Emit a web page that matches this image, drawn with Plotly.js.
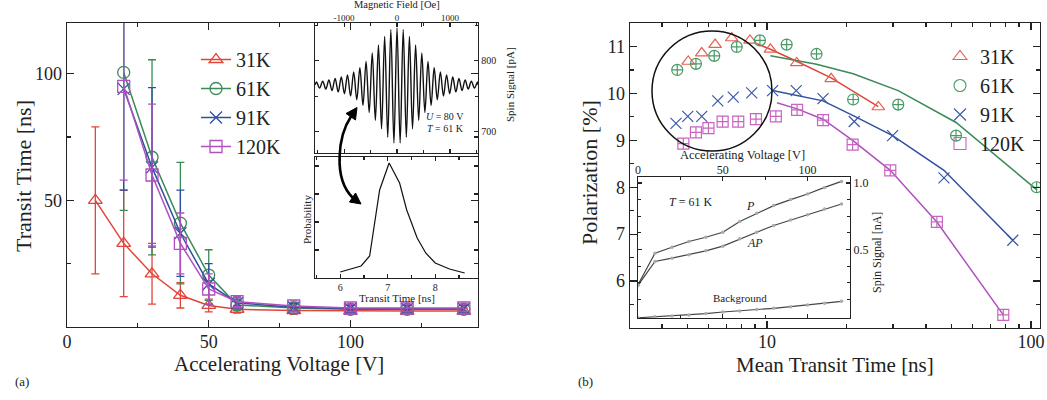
<!DOCTYPE html>
<html>
<head>
<meta charset="utf-8">
<script src="https://cdn.plot.ly/plotly-3.0.1.min.js"></script>
<style>html,body{margin:0;padding:0;background:#fff;}#chart{width:1047px;height:400px;}</style>
</head>
<body>
<div id="chart"></div>
<script>
// ---------- Panel (a): transit time vs accelerating voltage ----------
const voltage31 = [10, 20, 30, 40, 50, 60, 80, 100, 120, 140];
const transit31 = [50, 33, 21, 12.5, 8.5, 7, 6.5, 6.3, 6.3, 6.3];
const err31 = [29, 21, 12, 5, 2.5, 1.5, 1.5, 1.2, 1.2, 1.2];

const voltageHi = [20, 30, 40, 50, 60, 80, 100, 120, 140];
const transit61 = [100.5, 67, 41, 20.5, 8.7, 7.5, 7, 7, 7];
const err61 = [54.5, 38.5, 24, 10, 2, 1.5, 1.5, 1.5, 1.5];
const transit91 = [94, 63, 37, 17, 9.5, 7.8, 7.2, 7.2, 7.2];
const err91 = [40, 31.5, 17, 8, 2, 1.5, 1.5, 1.5, 1.5];
const transit120 = [95, 60, 33, 15, 10, 8.3, 7.5, 7.5, 7.5];
const err120 = [37, 28, 12, 6, 2, 2, 1.5, 1.5, 1.5];

// inset: spin signal vs magnetic field (extrema)
const fieldOe = [-1545, -1521, -1462.5, -1404, -1345.5, -1287, -1228.5, -1170, -1111.5, -1053, -994.5, -936, -877.5, -819, -760.5, -702, -643.5, -585, -526.5, -468, -409.5, -351, -292.5, -234, -175.5, -117, -58.5, 0, 58.5, 117, 175.5, 234, 292.5, 351, 409.5, 468, 526.5, 585, 643.5, 702, 760.5, 819, 877.5, 936, 994.5, 1053, 1111.5, 1170, 1228.5, 1287, 1345.5, 1404, 1462.5, 1521, 1528];
const spinPA = [766, 770, 761.5, 771, 760, 773, 758, 775, 756, 777, 753.5, 780, 750, 784, 745, 790, 737, 799, 727, 811, 716, 822, 704, 834, 692, 844, 684, 846, 684, 844, 692, 834, 704, 822, 716, 811, 727, 799, 737, 790, 745, 784, 750, 780, 753.5, 777, 756, 775, 758, 773, 760, 771, 761.5, 770, 766];
const fieldTicks = [-1000, 0, 1000];
const fieldTickText = ['-1000', '0', '1000'];

// inset: transit time distribution
const distTime = [6.0, 6.2, 6.44, 6.62, 6.83, 7.03, 7.25, 7.4, 7.62, 7.8, 8.0, 8.3, 8.62];
const distProb = [6, 9, 12, 22, 88, 115, 95, 68, 40, 25, 15, 9, 5];

// ---------- Panel (b): polarization vs mean transit time ----------
const mt31 = [5.03, 5.66, 6.36, 7.35, 8.62, 10.3, 12.96, 17.5, 26.4];
const pol31 = [10.68, 10.86, 11.04, 11.18, 11.13, 10.94, 10.65, 10.31, 9.71];
const mt61 = [4.57, 5.38, 6.31, 7.68, 9.4, 11.87, 15.4, 21.2, 31.4, 52, 105];
const pol61 = [10.50, 10.63, 10.80, 10.99, 11.13, 11.04, 10.84, 9.87, 9.76, 9.10, 8.0];
const mt91 = [4.52, 5.01, 5.66, 6.51, 7.45, 8.75, 10.5, 12.9, 16.3, 21.4, 29.9, 46.8, 85.3];
const pol91 = [9.36, 9.51, 9.51, 9.84, 9.92, 10.01, 10.06, 10.06, 9.89, 9.40, 9.10, 8.20, 6.87];
const mt120 = [4.82, 5.38, 6.0, 6.79, 7.78, 9.08, 10.8, 13.0, 16.3, 21.1, 29.3, 44, 78.5];
const pol120 = [8.93, 9.17, 9.26, 9.40, 9.40, 9.45, 9.51, 9.65, 9.43, 8.91, 8.36, 7.26, 5.28];

const fitX31 = [9.14, 10.3, 13.0, 17.5, 26.4];
const fitY31 = [11.06, 10.94, 10.68, 10.33, 9.72];
const fitX61 = [10.3, 15.4, 21.2, 31.4, 52, 105];
const fitY61 = [10.80, 10.62, 10.42, 10.06, 9.38, 7.95];
const fitX91 = [10.5, 16.3, 21.3, 29.9, 46.8, 85.3];
const fitY91 = [10.06, 9.84, 9.52, 9.10, 8.36, 6.87];
const fitX120 = [10.9, 13.0, 16.3, 21.1, 29.3, 44, 78.5];
const fitY120 = [9.80, 9.67, 9.45, 9.0, 8.36, 7.26, 5.28];

// inset (b): spin signal vs accelerating voltage
const insetVolt = [0, 10, 20, 30, 40, 50, 60, 70, 80, 90, 100, 110, 120];
const sigP = [0.235, 0.472, 0.517, 0.56, 0.592, 0.63, 0.71, 0.772, 0.83, 0.875, 0.917, 0.967, 1.012];
const sigAP = [0.23, 0.41, 0.435, 0.46, 0.49, 0.525, 0.58, 0.63, 0.68, 0.722, 0.762, 0.805, 0.842];
const sigBg = [-0.013, -0.005, 0.0, 0.008, 0.018, 0.03, 0.038, 0.048, 0.058, 0.07, 0.083, 0.095, 0.11];

const seriesNames = ['31K', '61K', '91K', '120K'];

// ---------- geometry helpers (figure pixels -> paper) ----------
const W = 1047, H = 400;
const PX = p => p / W;
const PY = p => 1 - p / H;
const FONT = 'Liberation Serif, Times New Roman, serif';

const colA = ['#e0453a', '#3a8a58', '#2f4f9f', '#b050c0'];
const colB = ['#e86050', '#4a9a66', '#3a58a8', '#c865c0'];

const traces = [];
// panel a main
const aX = [voltage31, voltageHi, voltageHi, voltageHi];
const aY = [transit31, transit61, transit91, transit120];
const aE = [err31, err61, err91, err120];
const aSym = ['triangle-up-open', 'circle-open', 'x-thin-open', 'square-open'];
for (let i = 0; i < 4; i++) {
  traces.push({
    x: aX[i], y: aY[i], xaxis: 'x', yaxis: 'y', name: seriesNames[i], legend: 'legend',
    mode: 'lines+markers', type: 'scatter',
    line: {color: colA[i], width: 1.5},
    marker: {symbol: aSym[i], size: 12, color: colA[i], line: {width: 1.3, color: colA[i]}},
    error_y: {type: 'data', array: aE[i], visible: true, color: colA[i], thickness: 1.3, width: 4}
  });
}
// inset oscillation
traces.push({x: fieldOe, y: spinPA, xaxis: 'x3', yaxis: 'y3', mode: 'lines', showlegend: false,
  line: {color: '#111', width: 1.4, shape: 'spline', smoothing: 1}});
// inset distribution
traces.push({x: distTime, y: distProb, xaxis: 'x4', yaxis: 'y4', mode: 'lines', showlegend: false,
  line: {color: '#111', width: 1.2}});

// panel b main markers
const bX = [mt31, mt61, mt91, mt120];
const bY = [pol31, pol61, pol91, pol120];
const bSym = ['triangle-up-open', 'circle-cross-open', 'x-thin-open', 'square-cross-open'];
const lSym = ['triangle-up-open', 'circle-open', 'x-thin-open', 'square-open'];
const fX = [fitX31, fitX61, fitX91, fitX120];
const fY = [fitY31, fitY61, fitY91, fitY120];
for (let i = 0; i < 4; i++) {
  traces.push({x: fX[i], y: fY[i], xaxis: 'x2', yaxis: 'y2', mode: 'lines', showlegend: false,
    line: {color: colA[i], width: 1.5}});
}
for (let i = 0; i < 4; i++) {
  traces.push({x: bX[i], y: bY[i], xaxis: 'x2', yaxis: 'y2', mode: 'markers', showlegend: false,
    marker: {symbol: bSym[i], size: 11, color: colB[i], line: {width: 1.2, color: colB[i]}}});
}
for (let i = 0; i < 4; i++) {
  traces.push({x: [null], y: [null], xaxis: 'x2', yaxis: 'y2', mode: 'markers', name: seriesNames[i],
    legend: 'legend2', marker: {symbol: lSym[i], size: 12, color: colB[i], line: {width: 1.1, color: colB[i]}}});
}
// inset b
const insetY = [sigP, sigAP, sigBg];
for (let i = 0; i < 3; i++) {
  traces.push({x: insetVolt, y: insetY[i], xaxis: 'x5', yaxis: 'y5', mode: 'lines+markers', showlegend: false,
    line: {color: '#444', width: 1.2}, marker: {size: 3.5, color: '#aaa'}});
}

const axBase = {showline: true, linecolor: '#222', linewidth: 1.3, ticks: 'inside', mirror: 'ticks',
  showgrid: false, zeroline: false, tickcolor: '#222', tickwidth: 1.2, fixedrange: true,
  tickfont: {family: FONT, size: 18, color: '#222'}};
function ax(o) { return Object.assign({}, axBase, o); }

const layout = {
  width: W, height: H, margin: {l: 0, r: 0, t: 0, b: 0},
  paper_bgcolor: '#fff', plot_bgcolor: 'rgba(0,0,0,0)', font: {family: FONT, color: '#222'},
  showlegend: true,
  xaxis: ax({domain: [PX(67), PX(478)], anchor: 'y', range: [0, 145], tickmode: 'array', tickvals: [0, 50, 100], ticklen: 7,
    ticklabelstandoff: -2,
    minor: {tickmode: 'array', tickvals: [25, 75, 125], ticklen: 4, ticks: 'inside', tickcolor: '#222'}}),
  yaxis: ax({domain: [PY(327), PY(23)], anchor: 'x', range: [0, 120], tickmode: 'array', tickvals: [50, 100], ticklen: 7,
    minor: {tickmode: 'array', tickvals: [25, 75], ticklen: 4, ticks: 'inside', tickcolor: '#222'}}),
  xaxis2: ax({domain: [PX(630), PX(1040)], anchor: 'y2', type: 'log', range: [0.481, 2.034], tickmode: 'array', tickvals: [10, 100], ticklen: 7,
    ticklabelstandoff: -3,
    minor: {tickmode: 'array', tickvals: [4, 5, 6, 7, 8, 9, 20, 30, 40, 50, 60, 70, 80, 90], ticklen: 4, ticks: 'inside', tickcolor: '#222'}}),
  yaxis2: ax({domain: [PY(328), PY(23)], anchor: 'x2', range: [5.0, 11.5], tickmode: 'array', tickvals: [6, 7, 8, 9, 10, 11], ticklen: 7,
    minor: {tickmode: 'array', tickvals: [5.5, 6.5, 7.5, 8.5, 9.5, 10.5, 11.5], ticklen: 4, ticks: 'inside', tickcolor: '#222'}}),
  xaxis3: ax({domain: [PX(315), PX(478)], anchor: 'y3', side: 'top', range: [-1550, 1530], tickmode: 'array', tickvals: fieldTicks, ticktext: fieldTickText, ticklen: 4,
    tickfont: {family: FONT, size: 9, color: '#222'}, linewidth: 1.2, ticklabelstandoff: -3,
    minor: {tickmode: 'array', tickvals: [-1500, -500, 500, 1500], ticklen: 3, ticks: 'inside', tickcolor: '#222'}}),
  yaxis3: ax({domain: [PY(153), PY(23)], anchor: 'x3', side: 'right', range: [670, 853], tickmode: 'array', tickvals: [700, 800], ticklen: 4,
    tickfont: {family: FONT, size: 10, color: '#222'}, linewidth: 1.2,
    minor: {tickmode: 'array', tickvals: [750, 850], ticklen: 3, ticks: 'inside', tickcolor: '#222'}}),
  xaxis4: ax({domain: [PX(315), PX(478)], anchor: 'y4', range: [5.47, 8.9], tickmode: 'array', tickvals: [6, 7, 8], ticklen: 4,
    tickfont: {family: FONT, size: 10, color: '#222'}, linewidth: 1.2,
    minor: {tickmode: 'array', tickvals: [5.5, 6.5, 7.5, 8.5], ticklen: 3, ticks: 'inside', tickcolor: '#222'}}),
  yaxis4: ax({domain: [PY(278), PY(157)], anchor: 'x4', range: [0, 121], tickmode: 'array', tickvals: [28, 56, 84, 112], ticklen: 4,
    showticklabels: false, linewidth: 1.2}),
  xaxis5: ax({domain: [PX(638), PX(850)], anchor: 'y5', side: 'top', range: [0, 125], tickmode: 'array', tickvals: [0, 50, 100], ticklen: 4,
    tickfont: {family: FONT, size: 12, color: '#222'}, linewidth: 1.2, ticklabelstandoff: -3,
    minor: {tickmode: 'array', tickvals: [25, 75, 125], ticklen: 3, ticks: 'inside', tickcolor: '#222'}}),
  yaxis5: ax({domain: [PY(318), PY(177)], anchor: 'x5', side: 'right', range: [-0.015, 1.045], tickmode: 'array', tickvals: [0.5, 1.0], ticklen: 4,
    tickformat: '.1f', tickfont: {family: FONT, size: 12, color: '#222'}, linewidth: 1.2,
    minor: {tickmode: 'array', tickvals: [0.125, 0.25, 0.375, 0.625, 0.75, 0.875], ticklen: 3, ticks: 'inside', tickcolor: '#222'}}),
  legend: {x: PX(196), y: PY(40), xanchor: 'left', yanchor: 'top', bgcolor: 'rgba(0,0,0,0)', borderwidth: 0,
    font: {family: FONT, size: 20, color: '#222'}, tracegroupgap: 0},
  legend2: {x: PX(940), y: PY(37), xanchor: 'left', yanchor: 'top', bgcolor: 'rgba(0,0,0,0)', borderwidth: 0,
    font: {family: FONT, size: 20, color: '#222'}, tracegroupgap: 0},
  shapes: [
    {type: 'circle', xref: 'paper', yref: 'paper', x0: PX(652), x1: PX(772), y0: PY(151), y1: PY(31),
      line: {color: '#111', width: 1.5}},
    {type: 'path', xref: 'paper', yref: 'paper',
      path: `M ${PX(351)} ${PY(116.5)} C ${PX(338)} ${PY(136)} ${PX(333)} ${PY(178)} ${PX(352.5)} ${PY(197.5)}`,
      line: {color: '#000', width: 2.6}},
    {type: 'path', xref: 'paper', yref: 'paper', fillcolor: '#000',
      path: `M ${PX(357)} ${PY(107.5)} L ${PX(355.5)} ${PY(120)} L ${PX(346)} ${PY(113.5)} Z`, line: {color: '#000', width: 1}},
    {type: 'path', xref: 'paper', yref: 'paper', fillcolor: '#000',
      path: `M ${PX(361)} ${PY(204)} L ${PX(349.5)} ${PY(202)} L ${PX(355.5)} ${PY(193)} Z`, line: {color: '#000', width: 1}}
  ],
  annotations: []
};

function A(text, x, y, size, extra) {
  layout.annotations.push(Object.assign({text: text, x: PX(x), y: PY(y), xref: 'paper', yref: 'paper',
    showarrow: false, xanchor: 'center', yanchor: 'middle', font: {family: FONT, size: size, color: '#222'}}, extra || {}));
}
// panel a
A('Transit Time [ns]', 24, 176, 22, {textangle: -90});
A('Accelerating Voltage [V]', 279, 364, 21);
A('(a)', 22, 381, 13);
A('Magnetic Field [Oe]', 397, 5, 10.5);
A('Spin Signal [pA]', 510, 85, 11, {textangle: -90});
A('<i>U</i> = 80 V', 445, 116, 10);
A('<i>T</i> = 61 K', 445, 128, 10);
A('Probability', 307, 220, 11, {textangle: -90});
A('Transit Time [ns]', 397, 298, 11);
// panel b
A('Polarization [%]', 589, 173, 22, {textangle: -90});
A('Mean Transit Time [ns]', 835, 365, 21);
A('(b)', 585, 381, 13);
A('Accelerating Voltage [V]', 742, 155, 12.5);
A('<i>T</i> = 61 K', 690, 202, 12);
A('<i>P</i>', 750, 206, 12);
A('<i>AP</i>', 755, 243, 12);
A('Background', 740, 298, 11);
A('Spin Signal [nA]', 877, 253, 12, {textangle: -90});

Plotly.newPlot('chart', traces, layout, {displayModeBar: false, staticPlot: true});
</script>
</body>
</html>
